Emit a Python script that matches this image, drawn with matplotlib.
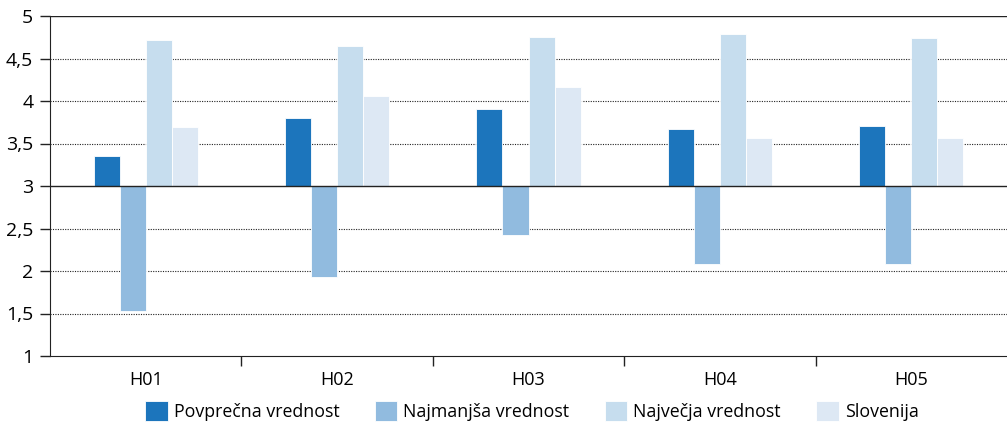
import matplotlib.pyplot as plt
import numpy as np

plt.rcParams['font.family'] = ['Open Sans', 'DejaVu Sans']

categories = ['H01', 'H02', 'H03', 'H04', 'H05']
povprecna = [3.35, 3.80, 3.91, 3.67, 3.71]
najmanjsa = [1.53, 1.93, 2.42, 2.08, 2.08]
najvecja = [4.72, 4.65, 4.75, 4.79, 4.74]
slovenija = [3.69, 4.06, 4.16, 3.56, 3.56]
series_names = ['Povprečna vrednost', 'Najmanjša vrednost', 'Največja vrednost', 'Slovenija']
colors = ['#1c75bc', '#91bbdf', '#c6ddee', '#dde8f4']

base = 3.0
ticks = [1, 1.5, 2, 2.5, 3, 3.5, 4, 4.5, 5]
tick_labels = ['1', '1,5', '2', '2,5', '3', '3,5', '4', '4,5', '5']

fig = plt.figure(figsize=(10.07, 4.22), dpi=100)
ax = fig.add_axes([50 / 1007, 66 / 422, 957 / 1007, 340 / 422])

x = np.arange(len(categories))
w = 0.136
offsets = [-1.5, -0.5, 0.5, 1.5]
handles = []
for vals, off, col, name in zip([povprecna, najmanjsa, najvecja, slovenija], offsets, colors, series_names):
    heights = [v - base for v in vals]
    b = ax.bar(x + off * w, heights, width=w, bottom=base, color=col,
               edgecolor='white', linewidth=0.6, label=name, zorder=3)
    handles.append(b)

# dotted grid, solid lines at the baseline and the top
for t in [1.5, 2, 2.5, 3.5, 4, 4.5]:
    ax.axhline(t, color='#222222', linestyle=(0, (1, 1.2)), linewidth=0.8, zorder=1)
ax.axhline(3, color='#222222', linewidth=1.0, zorder=4)
ax.axhline(5, color='#222222', linewidth=1.0, zorder=4)

ax.set_xlim(-0.5, len(categories) - 0.5)
ax.set_ylim(1, 5)
ax.set_yticks(ticks, tick_labels)
ax.set_xticks(x, categories)
ax.set_xticks(np.arange(0.5, len(categories) - 0.5, 1), minor=True)
ax.tick_params(axis='x', which='major', length=0, pad=11, labelsize=13)
ax.tick_params(axis='x', which='minor', length=7, width=1, color='#222222')
ax.tick_params(axis='y', length=7, width=1, color='#222222', labelsize=14, pad=5)

for s in ['top', 'right']:
    ax.spines[s].set_visible(False)
ax.spines['left'].set_color('#222222')
ax.spines['bottom'].set_color('#222222')

fig.legend(handles=handles, labels=series_names, loc='center', ncol=4,
           bbox_to_anchor=(532 / 1007, 1 - 411 / 422), frameon=False,
           fontsize=12.8, handlelength=1.25, handleheight=1.3, handletextpad=0.35,
           columnspacing=2.0, borderpad=0)

fig.savefig('out.png', dpi=100)
